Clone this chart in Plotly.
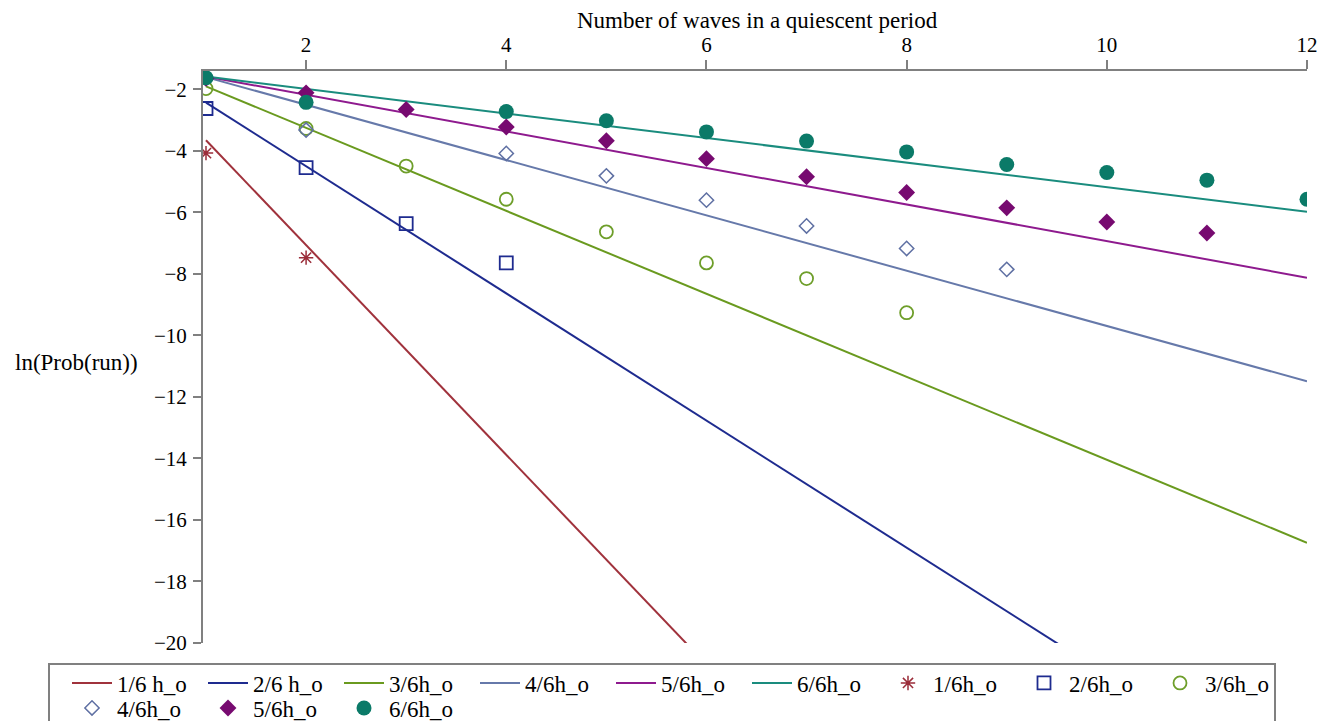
import plotly.graph_objects as go

# ---- data ----
line_names = ["1/6 h_o", "2/6 h_o", "3/6h_o", "4/6h_o", "5/6h_o", "6/6h_o"]
line_x = [1, 12]
line_1 = [-3.65, -41.16]
line_2 = [-2.43, -25.17]
line_3 = [-1.90, -16.74]
line_4 = [-1.60, -11.49]
line_5 = [-1.58, -8.12]
line_6 = [-1.58, -5.98]

obs_names = ["1/6h_o", "2/6h_o", "3/6h_o", "4/6h_o", "5/6h_o", "6/6h_o"]
obs1_x = [1, 2]
obs1_y = [-4.07, -7.47]
obs2_x = [1, 2, 3, 4]
obs2_y = [-2.62, -4.54, -6.36, -7.64]
obs3_x = [1, 2, 3, 4, 5, 6, 7, 8]
obs3_y = [-1.97, -3.27, -4.49, -5.57, -6.63, -7.64, -8.15, -9.26]
obs4_x = [1, 2, 4, 5, 6, 7, 8, 9]
obs4_y = [-1.64, -3.32, -4.08, -4.81, -5.60, -6.44, -7.17, -7.85]
obs5_x = [1, 2, 3, 4, 5, 6, 7, 8, 9, 10, 11]
obs5_y = [-1.64, -2.11, -2.65, -3.22, -3.67, -4.25, -4.84, -5.35, -5.85, -6.31, -6.67]
obs6_x = [1, 2, 4, 5, 6, 7, 8, 9, 10, 11, 12]
obs6_y = [-1.62, -2.42, -2.72, -3.02, -3.38, -3.68, -4.03, -4.44, -4.70, -4.95, -5.57]

x_ticks = [2, 4, 6, 8, 10, 12]
y_ticks = [-2, -4, -6, -8, -10, -12, -14, -16, -18, -20]

# ---- styles ----
line_colors = ["#a0323c", "#1e2b8f", "#6a9a1f", "#6679aa", "#8e1a8e", "#1a8c7e"]
FONT = "Liberation Serif"

fig = go.Figure()
for name, ys, c in zip(line_names, [line_1, line_2, line_3, line_4, line_5, line_6], line_colors):
    fig.add_trace(go.Scatter(x=line_x, y=ys, mode="lines", name=name,
                             line=dict(color=c, width=2), legend="legend"))

marker_specs = [
    (obs1_x, obs1_y, dict(symbol="asterisk-open", size=12, color="#9b2d3a", line=dict(color="#9b2d3a", width=1.5)), "legend"),
    (obs2_x, obs2_y, dict(symbol="square-open", size=13, color="#1e2b8f", line=dict(color="#1e2b8f", width=1.8)), "legend"),
    (obs3_x, obs3_y, dict(symbol="circle-open", size=13, color="#6e9e2a", line=dict(color="#6e9e2a", width=1.8)), "legend"),
    (obs4_x, obs4_y, dict(symbol="diamond-open", size=11, color="#5f70a3", line=dict(color="#5f70a3", width=1.5)), "legend2"),
    (obs5_x, obs5_y, dict(symbol="diamond", size=13, color="#770a70", line=dict(width=0)), "legend2"),
    (obs6_x, obs6_y, dict(symbol="circle", size=15, color="#0b7a68", line=dict(width=0)), "legend2"),
]
for name, (xs, ys, mk, lg) in zip(obs_names, marker_specs):
    fig.add_trace(go.Scatter(x=xs, y=ys, mode="markers", name=name, marker=mk, legend=lg))

# page body adds an 8px offset; layout coordinates below are screen coords minus 8
W, H = 1330, 713
L, R, T, B = 195, 31, 63, 78
pw, ph = W - L - R, H - T - B

def px_x(p):
    return (p - L) / pw

def px_y(p):
    return (H - B - p) / ph

leg_common = dict(orientation="h", xanchor="left", yanchor="middle",
                  borderwidth=0, bgcolor="rgba(0,0,0,0)",
                  entrywidth=81, entrywidthmode="pixels", itemwidth=40,
                  font=dict(family=FONT, size=23, color="black"), tracegroupgap=0)

fig.update_layout(
    width=W, height=H,
    margin=dict(l=L, r=R, t=T, b=B, autoexpand=False),
    paper_bgcolor="white", plot_bgcolor="white",
    font=dict(family=FONT, size=21, color="black"),
    showlegend=True,
    legend=dict(x=px_x(59), y=px_y(675), **leg_common),
    legend2=dict(x=px_x(59), y=px_y(700), **leg_common),
    xaxis=dict(range=[0.97, 12], side="top", tickvals=x_ticks, showgrid=False, zeroline=False,
               showline=True, linecolor="#808080", linewidth=2, ticks="outside", ticklen=9,
               tickcolor="#808080", tickwidth=2, tickfont=dict(family=FONT, size=21)),
    yaxis=dict(range=[-20, -1.4], tickvals=y_ticks, showgrid=False, zeroline=False,
               showline=True, linecolor="#808080", linewidth=2, ticks="outside", ticklen=8,
               tickcolor="#808080", tickwidth=2, tickfont=dict(family=FONT, size=21),
               ticklabelstandoff=2),
    shapes=[
        dict(type="rect", xref="paper", yref="paper",
             x0=px_x(41), x1=px_x(1267), y0=px_y(656), y1=px_y(730),
             line=dict(color="#808080", width=2), fillcolor="rgba(0,0,0,0)", layer="above"),
    ],
    annotations=[
        dict(text="Number of waves in a quiescent period", xref="paper", yref="paper",
             x=px_x(749), y=px_y(12), xanchor="center", yanchor="middle", showarrow=False,
             font=dict(family=FONT, size=23)),
        dict(text="ln(Prob(run))", xref="paper", yref="paper",
             x=px_x(5), y=px_y(354), xanchor="left", yanchor="middle", showarrow=False,
             font=dict(family=FONT, size=23)),
    ],
)

fig.write_html("out.html")
